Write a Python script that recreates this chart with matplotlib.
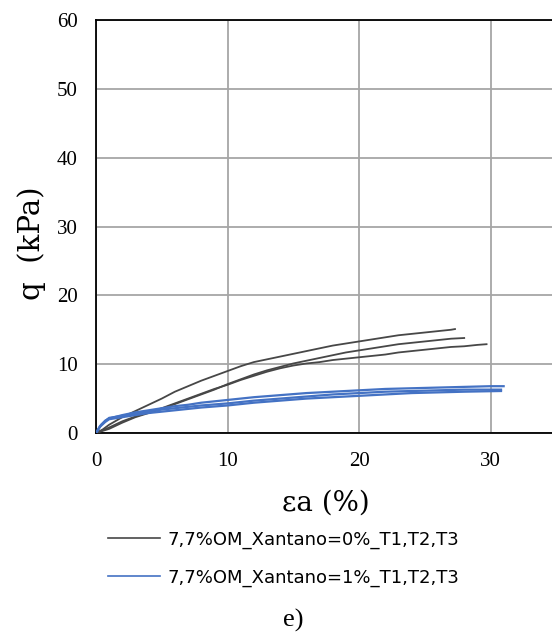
import matplotlib
matplotlib.use("Agg")
import matplotlib.pyplot as plt
from matplotlib.lines import Line2D

# Gray series (Xantano = 0%)
g1_x = [0, 0.5, 1, 2, 3, 4, 5, 6, 7, 8, 9, 10, 11, 12, 13, 14, 15, 16, 17, 18, 19, 20, 21, 22, 23, 24, 25, 26, 27, 27.3]
g1_y = [0, 0.5, 1.2, 2.3, 3.2, 4.1, 5.0, 6.0, 6.8, 7.6, 8.3, 9.0, 9.7, 10.3, 10.7, 11.1, 11.5, 11.9, 12.3, 12.7, 13.0, 13.3, 13.6, 13.9, 14.2, 14.4, 14.6, 14.8, 15.0, 15.1]
g2_x = [0, 1, 2, 3, 4, 5, 6, 7, 8, 9, 10, 11, 12, 13, 14, 15, 16, 17, 18, 19, 20, 21, 22, 23, 24, 25, 26, 27, 28]
g2_y = [0, 0.6, 1.5, 2.3, 2.9, 3.5, 4.2, 4.9, 5.6, 6.3, 7.1, 7.8, 8.5, 9.1, 9.6, 10.1, 10.5, 10.9, 11.3, 11.7, 12.0, 12.3, 12.6, 12.9, 13.1, 13.3, 13.5, 13.7, 13.8]
g3_x = [0, 1, 2, 3, 4, 5, 6, 7, 8, 9, 10, 11, 12, 13, 14, 15, 16, 17, 18, 19, 20, 21, 22, 23, 24, 25, 26, 27, 28, 29, 29.7]
g3_y = [0, 0.8, 1.7, 2.4, 3.0, 3.6, 4.3, 5.0, 5.7, 6.4, 7.0, 7.7, 8.3, 8.9, 9.4, 9.8, 10.1, 10.3, 10.6, 10.8, 11.0, 11.2, 11.4, 11.7, 11.9, 12.1, 12.3, 12.5, 12.6, 12.8, 12.9]

# Blue series (Xantano = 1%)
b1_x = [0, 0.3, 0.7, 1, 2, 3, 4, 5, 6, 7, 8, 9, 10, 12, 14, 16, 18, 20, 22, 24, 26, 28, 30, 31]
b1_y = [0, 1.0, 1.8, 2.1, 2.6, 3.0, 3.3, 3.6, 3.9, 4.1, 4.4, 4.6, 4.8, 5.2, 5.5, 5.8, 6.0, 6.2, 6.4, 6.5, 6.6, 6.7, 6.8, 6.8]
b2_x = [0, 0.3, 0.7, 1, 2, 3, 4, 5, 6, 7, 8, 10, 12, 14, 16, 18, 20, 22, 24, 26, 28, 30.8]
b2_y = [0, 0.9, 1.6, 2.0, 2.3, 2.6, 2.9, 3.1, 3.3, 3.5, 3.7, 4.0, 4.4, 4.7, 5.0, 5.2, 5.4, 5.6, 5.8, 5.9, 6.0, 6.1]
b3_x = [0, 0.4, 0.8, 1, 2, 3, 4, 5, 6, 8, 10, 12, 14, 16, 18, 20, 22, 24, 26, 28, 30.8]
b3_y = [0, 1.2, 1.9, 2.2, 2.5, 2.8, 3.1, 3.4, 3.6, 4.0, 4.3, 4.7, 5.0, 5.3, 5.6, 5.8, 6.0, 6.1, 6.2, 6.3, 6.3]

x_ticks = [0, 10, 20, 30]
y_ticks = [0, 10, 20, 30, 40, 50, 60]
legend_labels = ["7,7%OM_Xantano=0%_T1,T2,T3", "7,7%OM_Xantano=1%_T1,T2,T3"]

W, H = 552, 635
fig = plt.figure(figsize=(W / 100, H / 100), dpi=100)
left, right, bottom, top = 96, 552, 433, 20
ax = fig.add_axes([left / W, 1 - bottom / H, (right - left) / W, (bottom - top) / H])

gray = "#474747"
blue = "#4472C4"
for xs, ys in [(g1_x, g1_y), (g2_x, g2_y), (g3_x, g3_y)]:
    ax.plot(xs, ys, color=gray, lw=1.3, zorder=3)
for xs, ys in [(b1_x, b1_y), (b2_x, b2_y), (b3_x, b3_y)]:
    ax.plot(xs, ys, color=blue, lw=1.6, zorder=3)

ax.set_xlim(0, (right - left) / 13.15)
ax.set_ylim(0, 60)
ax.set_xticks(x_ticks)
ax.set_yticks(y_ticks)
ax.grid(True, color="#a6a6a6", lw=1.3)
ax.set_axisbelow(True)
for s in ["left", "bottom", "top"]:
    ax.spines[s].set_color("black")
    ax.spines[s].set_linewidth(1.3)
ax.spines["right"].set_visible(False)
ax.tick_params(axis="y", length=0, pad=13, labelsize=15)
ax.tick_params(axis="x", length=0, pad=14, labelsize=15)
for lab in ax.get_xticklabels() + ax.get_yticklabels():
    lab.set_fontfamily("Liberation Serif")

fig.text(326 / W, 1 - 503 / H, "εa (%)", fontsize=20, family="DejaVu Serif", ha="center", va="center")
fig.text(32 / W, 1 - 243 / H, "q  (kPa)", fontsize=21, family="DejaVu Serif", ha="center", va="center", rotation=90)

handles = [Line2D([], [], color=gray, lw=1.2), Line2D([], [], color=blue, lw=1.2)]
fig.legend(handles, legend_labels, loc="center left", bbox_to_anchor=(100.8 / W, 1 - 558.5 / H),
           frameon=False, prop={"family": "DejaVu Sans", "size": 13}, handlelength=2.88,
           handletextpad=0.44, labelspacing=1.08, borderaxespad=0)
fig.text(293 / W, 1 - 620 / H, "e)", fontsize=19, family="Liberation Serif", ha="center", va="center")

fig.savefig("out.png", dpi=100)
